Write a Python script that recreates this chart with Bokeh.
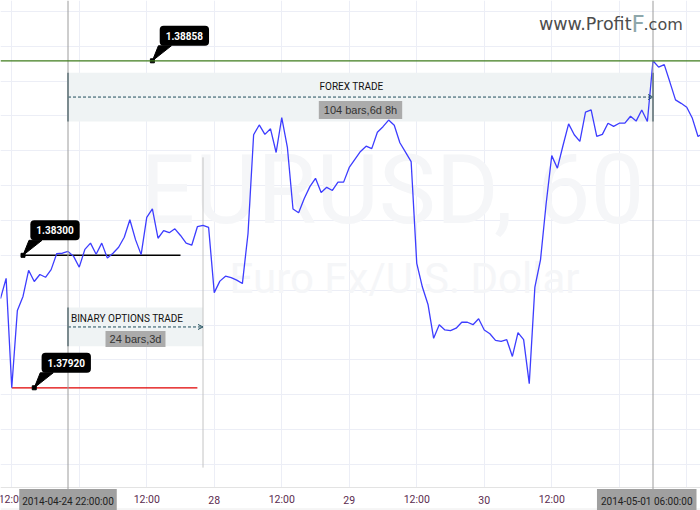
from bokeh.plotting import figure
from bokeh.models import Range1d, FixedTicker, Grid, Span, Label, Arrow, OpenHead
from bokeh.core.properties import value
from bokeh.embed import file_html
from bokeh.resources import INLINE

# ---------------- data ----------------
bars = list(range(-12, 114))  # hourly bar index, bar 0 = 2014-04-24 22:00
prices = [
    1.38176, 1.38234, 1.37920, 1.38142, 1.38182, 1.38257, 1.38225, 1.38245, 1.38237, 1.38259,
    1.38305, 1.38306, 1.38311, 1.38297, 1.38266, 1.38317, 1.38335, 1.38303, 1.38335, 1.38292,
    1.38306, 1.38323, 1.38352, 1.38402, 1.38345, 1.38302, 1.38409, 1.38433, 1.38349, 1.38371,
    1.38365, 1.38376, 1.38357, 1.38335, 1.38329, 1.38382, 1.38386, 1.38380, 1.38193, 1.38226,
    1.38240, 1.38236, 1.38229, 1.38219, 1.38362, 1.38646, 1.38674, 1.38647, 1.38663, 1.38595,
    1.38695, 1.38610, 1.38433, 1.38422, 1.38463, 1.38497, 1.38521, 1.38480, 1.38495, 1.38486,
    1.38510, 1.38510, 1.38552, 1.38575, 1.38598, 1.38613, 1.38606, 1.38653, 1.38669, 1.38688,
    1.38673, 1.38623, 1.38596, 1.38569, 1.38277, 1.38209, 1.38159, 1.38062, 1.38101, 1.38086,
    1.38084, 1.38091, 1.38108, 1.38108, 1.38101, 1.38118, 1.38086, 1.38075, 1.38056, 1.38053,
    1.38058, 1.38010, 1.38078, 1.38058, 1.37932, 1.38209, 1.38287, 1.38448, 1.38586, 1.38550,
    1.38615, 1.38677, 1.38646, 1.38627, 1.38711, 1.38717, 1.38641, 1.38647, 1.38679, 1.38670,
    1.38679, 1.38679, 1.38699, 1.38685, 1.38717, 1.38684, 1.38858, 1.38840, 1.38847, 1.38797,
    1.38746, 1.38736, 1.38725, 1.38693, 1.38641, 1.38650,
]

tick_bars = [-10, 14, 26, 38, 50, 62, 74, 86]
tick_labels = ["12:00", "12:00", "28", "12:00", "29", "12:00", "30", "12:00"]
grid_bars = [-10, 2, 14, 26, 38, 50, 62, 74, 86, 98, 110]
grid_prices = [1.377, 1.378, 1.379, 1.380, 1.381, 1.382, 1.383, 1.384, 1.385,
               1.386, 1.387, 1.388, 1.389, 1.390]

cross_bars = [0, 104]
cross_texts = ["2014-04-24 22:00:00", "2014-05-01 06:00:00"]

level_prices = [1.38858, 1.38300, 1.37920]
level_texts = ["1.38858", "1.38300", "1.37920"]
level_anchor = [15, -8, -6]
level_start = [None, -8, -10]
level_end = [None, 20, 23]

forex_range = dict(start=0, end=104, top=1.38824, bottom=1.38684,
                   title="FOREX TRADE", info="104 bars,6d 8h", title_bar=50.4, title_price=1.38785)
binary_range = dict(start=0, end=24, top=1.38150, bottom=1.38039,
                    title="BINARY OPTIONS TRADE", info="24 bars,3d", title_bar=10.5, title_price=1.38119)
vline_bar = 24
vline_prices = [1.37691, 1.38581]

# ---------------- figure ----------------
W, H = 700, 510
AXIS_TOP = 487                      # pixel row where the time-axis band starts
x0, x1 = -12.0, 112.444
y0, y1 = 1.37568, 1.39031
ppb = W / (x1 - x0)
ppp = H / (y1 - y0)
band_top = y0 + (H - AXIS_TOP) / ppp  # price at the top of the time-axis band
band_bottom = y0 + 1.5 / ppp

SANS = "Roboto"

p = figure(width=W, height=H, output_backend="svg", toolbar_location=None,
           x_range=Range1d(x0, x1), y_range=Range1d(y0, y1),
           x_axis_location=None, y_axis_location=None,
           min_border_left=0, min_border_right=0, min_border_top=0, min_border_bottom=0)
p.outline_line_color = None
p.background_fill_color = "white"
p.border_fill_color = "white"
p.center = [c for c in p.center if not isinstance(c, Grid)]

p.add_layout(Grid(dimension=0, ticker=FixedTicker(ticks=grid_bars),
                  grid_line_color="#eceef6", grid_line_width=1))
p.add_layout(Grid(dimension=1, ticker=FixedTicker(ticks=grid_prices),
                  grid_line_color="#eceef6", grid_line_width=1))

# watermark
p.add_layout(Label(x=392, y=H - 222 + 33, x_units="screen", y_units="screen", text="EURUSD, 60",
                   text_font="Roboto", text_font_size="96px", text_color="#f5f6f8",
                   text_align="center", text_baseline="alphabetic", level="underlay"))
p.add_layout(Label(x=404, y=H - 292 + 14, x_units="screen", y_units="screen", text="Euro Fx/U.S. Dollar",
                   text_font="Roboto", text_font_size="42px", text_color="#f5f6f8",
                   text_align="center", text_baseline="alphabetic", level="underlay"))

# time-axis band
p.quad(left=[x0], right=[x1], bottom=[y0], top=[band_top], fill_color="white", line_color=None)
p.add_layout(Span(location=band_top, dimension="width", line_color="#e3e3e3", line_width=1))
p.add_layout(Span(location=band_bottom, dimension="width", line_color="#ececec", line_width=1))
p.text(x=tick_bars, y=[band_top] * len(tick_bars), text=tick_labels, y_offset=12,
       text_align="center", text_baseline="middle", text_color="#5b2c4f",
       text_font=value(SANS), text_font_size="10.5px")

# date range boxes
for r, edges in ((forex_range, ["start", "end"]), (binary_range, ["start"])):
    p.quad(left=[r["start"]], right=[r["end"]], top=[r["top"]], bottom=[r["bottom"]],
           fill_color="#eff3f4", line_color=None)
    ex = [r[e] for e in edges]
    p.segment(x0=ex, y0=[r["bottom"]] * len(ex), x1=ex, y1=[r["top"]] * len(ex),
              line_color="#5a7880", line_width=2)
    mid = (r["top"] + r["bottom"]) / 2
    p.add_layout(Arrow(end=OpenHead(size=5, line_color="#1f4d5c", line_width=1),
                       x_start=r["start"], y_start=mid, x_end=r["end"], y_end=mid,
                       line_color="#1f4d5c", line_dash="3 2", line_width=1))

# crosshair lines
for b in cross_bars:
    p.add_layout(Span(location=b, dimension="height", line_color="#9c9c9c", line_width=1))
p.segment(x0=[vline_bar], y0=[vline_prices[0]], x1=[vline_bar], y1=[vline_prices[1]],
          line_color="#c4c4c4", line_width=1)

# horizontal levels
p.add_layout(Span(location=level_prices[0], dimension="width", line_color="#3f7d1c", line_width=1.3))
p.segment(x0=[level_start[1]], y0=[level_prices[1]], x1=[level_end[1]], y1=[level_prices[1]],
          line_color="black", line_width=1.5)
p.segment(x0=[level_start[2]], y0=[level_prices[2]], x1=[level_end[2]], y1=[level_prices[2]],
          line_color="#e00000", line_width=1.2)

# price line
p.line(bars, prices, line_color="#3d3dff", line_width=1.3)

# callouts
xs, ys = [], []
for b, pr in zip(level_anchor, level_prices):
    xs.append([b, b + 6 / ppb, b + 19 / ppb])
    ys.append([pr, pr + 15 / ppp, pr + 15 / ppp])
p.patches(xs, ys, fill_color="black", line_color="black")
p.scatter(level_anchor, level_prices, marker="square", size=4, color="black")
for b, pr, t in zip(level_anchor, level_prices, level_texts):
    p.add_layout(Label(x=b, y=pr, x_offset=32, y_offset=25, text=t,
                       text_align="center", text_baseline="middle",
                       text_color="white", text_font_style="bold",
                       text_font=SANS, text_font_size="10px",
                       background_fill_color="black", border_radius=4,
                       padding=dict(x=6, y=6)))

# range texts
for r, gap, pad in ((forex_range, 1, dict(x=5, y=3)), (binary_range, 2, dict(x=4, y=2))):
    p.add_layout(Label(x=r["title_bar"], y=r["title_price"], text=r["title"],
                       text_align="center", text_baseline="middle",
                       text_color="#111111", text_font=SANS, text_font_size="10px"))
    mid = (r["top"] + r["bottom"]) / 2
    p.add_layout(Label(x=(r["start"] + r["end"]) / 2, y=mid, y_offset=-(gap + pad["y"]),
                       text=r["info"], text_align="center", text_baseline="top",
                       text_color="#333333", text_font="Liberation Sans", text_font_size="11px",
                       background_fill_color="#ababab", padding=pad))

# crosshair time labels on the axis band
p.add_layout(Label(x=cross_bars[0], y=band_top, y_offset=-14, text=cross_texts[0],
                   text_align="center", text_baseline="middle", text_color="#222222",
                   text_font=SANS, text_font_size="10px", background_fill_color="#a0a0a0",
                   padding=dict(x=3, y=7)))
p.add_layout(Label(x=W - 4, x_units="screen", y=band_top, y_offset=-14, text=cross_texts[1],
                   text_align="right", text_baseline="middle", text_color="#222222",
                   text_font=SANS, text_font_size="10px", background_fill_color="#a0a0a0",
                   padding=dict(x=4, y=7)))

# logo
p.add_layout(Label(x=631, y=H - 29.3 + 6, x_units="screen", y_units="screen", text="www.Profit",
                   text_align="right", text_baseline="alphabetic", text_color="#4d4d4d",
                   text_font="DejaVu Sans", text_font_size="17.5px"))
p.add_layout(Label(x=631, y=H - 31 + 8, x_units="screen", y_units="screen", text="F",
                   text_align="left", text_baseline="alphabetic", text_color="#8ea7ab",
                   text_font="DejaVu Sans", text_font_size="23px"))
p.add_layout(Label(x=643, y=H - 29.3 + 5.5, x_units="screen", y_units="screen", text=".com",
                   text_align="left", text_baseline="alphabetic", text_color="#4d4d4d",
                   text_font="DejaVu Sans", text_font_size="16px"))

open("out.html", "w").write(file_html(p, INLINE))
